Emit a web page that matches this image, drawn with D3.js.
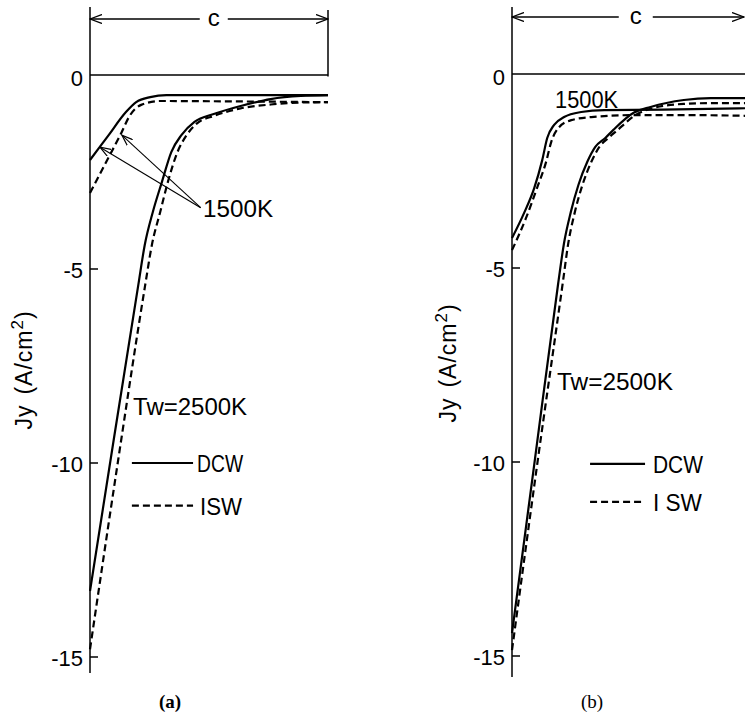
<!DOCTYPE html>
<html><head><meta charset="utf-8">
<script src="https://cdn.jsdelivr.net/npm/d3@7"></script>
<style>html,body{margin:0;padding:0;background:#fff;} svg{display:block;}</style>
</head><body><svg id="chart" width="745" height="717"></svg>
<script>
// ---------- DATA (x in percent of c, y = Jy in A/cm^2) ----------
const yTicks = [0, -5, -10, -15];
const yTickLabels = ["0", "-5", "-10", "-15"];
const seriesNames = ["DCW", "ISW"];
const panelCaptions = ["(a)", "(b)"];

// panel (a)
const a_DCW_1500_x = [0, 7.6, 15.2, 19.4, 25.3, 32.1, 60, 100];
const a_DCW_1500_y = [-2.19, -1.57, -0.95, -0.70, -0.57, -0.52, -0.52, -0.52];
const a_ISW_1500_x = [0, 6.3, 12.7, 16.9, 21.5, 29.5, 59, 100];
const a_ISW_1500_y = [-3.04, -2.30, -1.55, -1.03, -0.77, -0.67, -0.68, -0.70];
const a_DCW_2500_x = [0, 10.1, 20.3, 23.0, 26.4, 30.2, 34.2, 38.4, 43.9, 52.3, 63.3, 75.9, 88.6, 100];
const a_DCW_2500_y = [-13.3, -9.35, -5.41, -4.38, -3.53, -2.76, -1.98, -1.55, -1.21, -1.0, -0.80, -0.62, -0.54, -0.52];
const a_ISW_2500_x = [0, 11.4, 23.2, 26.0, 29.5, 32.7, 36.8, 40.6, 45.1, 52.3, 63.3, 75.9, 88.6, 100];
const a_ISW_2500_y = [-14.8, -10.1, -5.41, -4.38, -3.53, -2.76, -1.98, -1.55, -1.24, -1.05, -0.86, -0.76, -0.71, -0.70];

// panel (b)
const b_DCW_1500_x = [0, 5.1, 9.3, 12.7, 14.8, 17.7, 21.9, 29.1, 38.8, 63.3, 100];
const b_DCW_1500_y = [-4.23, -3.58, -2.95, -2.22, -1.65, -1.31, -1.11, -0.98, -0.93, -0.92, -0.88];
const b_ISW_1500_x = [0, 5.9, 10.5, 14.3, 16.5, 19.8, 24.9, 33.3, 50.6, 75.9, 100];
const b_ISW_1500_y = [-4.54, -3.71, -2.94, -2.27, -1.75, -1.37, -1.19, -1.11, -1.06, -1.06, -1.08];
const b_DCW_2500_x = [0, 9.7, 19.4, 21.8, 24.7, 27.9, 31.6, 35.0, 39.2, 42.6, 51.1, 58.2, 72.2, 83.5, 100];
const b_DCW_2500_y = [-14.41, -9.9, -5.40, -4.38, -3.56, -2.86, -2.27, -1.88, -1.65, -1.44, -1.0, -0.85, -0.67, -0.62, -0.62];
const b_ISW_2500_x = [0, 10.5, 21.5, 23.6, 26.4, 29.6, 33.3, 36.7, 40.5, 43.9, 51.9, 59.1, 72.2, 83.5, 100];
const b_ISW_2500_y = [-14.85, -10.1, -5.31, -4.38, -3.56, -2.86, -2.27, -1.88, -1.65, -1.47, -1.06, -0.88, -0.77, -0.75, -0.75];

// ---------- LAYOUT ----------
const svg = d3.select("#chart");
svg.append("rect").attr("width", 745).attr("height", 717).attr("fill", "#fff");
const defs = svg.append("defs");
defs.append("marker").attr("id", "dimArrow")
  .attr("viewBox", "0 0 13 10").attr("refX", 12).attr("refY", 5)
  .attr("markerWidth", 13).attr("markerHeight", 10)
  .attr("markerUnits", "userSpaceOnUse").attr("orient", "auto-start-reverse")
  .append("path").attr("d", "M0,0.5 L12,5 L0,9.5").attr("fill", "none")
  .attr("stroke", "#000").attr("stroke-width", 1.3);
defs.append("marker").attr("id", "annArrow")
  .attr("viewBox", "0 0 12 9").attr("refX", 11).attr("refY", 4.5)
  .attr("markerWidth", 12).attr("markerHeight", 9)
  .attr("markerUnits", "userSpaceOnUse").attr("orient", "auto")
  .append("path").attr("d", "M0,0.5 L11,4.5 L0,8.5").attr("fill", "none")
  .attr("stroke", "#000").attr("stroke-width", 1.2);

const SANS = "'Liberation Sans', Arial, sans-serif";
const SERIF = "'Liberation Serif', 'Times New Roman', serif";

function zip(xs, ys) { return xs.map((v, i) => [v, ys[i]]); }

const panels = [
  {
    left: 90, right: 328, zeroY: 75, bottomY: 657, axisTop: 7, axisBottom: 673,
    rightTick: true, dimY: 19, cGap: 14, caption: panelCaptions[0], captionX: 170, captionBold: true,
    ylabX: 32, ylabY: 370,
    series: [
      { d: zip(a_DCW_1500_x, a_DCW_1500_y), dash: false },
      { d: zip(a_ISW_1500_x, a_ISW_1500_y), dash: true },
      { d: zip(a_DCW_2500_x, a_DCW_2500_y), dash: false },
      { d: zip(a_ISW_2500_x, a_ISW_2500_y), dash: true }
    ],
    legend: { x1: 17.6, x2: 43.3, tx: [45, 46.2], ty: [-10.0, -11.1], w: [46, 42], labels: ["DCW", "ISW"] },
    tw: { x: 18.1, y: -8.76, w: 114, text: "Tw=2500K" },
    k1500: { x: 47.5, y: -3.65, w: 70, text: "1500K", arrows: [[4.2, -1.86], [13.4, -1.55]], from: [46.5, -3.42] }
  },
  {
    left: 512, right: 750, zeroY: 74, bottomY: 656, axisTop: 7, axisBottom: 677,
    rightTick: false, dimY: 17, cGap: 17, caption: panelCaptions[1], captionX: 592, captionBold: false,
    ylabX: 456, ylabY: 363,
    series: [
      { d: zip(b_DCW_1500_x, b_DCW_1500_y), dash: false },
      { d: zip(b_ISW_1500_x, b_ISW_1500_y), dash: true },
      { d: zip(b_DCW_2500_x, b_DCW_2500_y), dash: false },
      { d: zip(b_ISW_2500_x, b_ISW_2500_y), dash: true }
    ],
    legend: { x1: 32.8, x2: 55.9, tx: [59.2, 59.2], ty: [-10.05, -11.03], w: [50, 49], labels: ["DCW", "I SW"] },
    tw: { x: 18.9, y: -8.14, w: 116, text: "Tw=2500K" },
    k1500: { x: 18.1, y: -0.88, w: 63, text: "1500K", arrows: [], from: null }
  }
];

panels.forEach(p => {
  const g = svg.append("g");
  const x = d3.scaleLinear().domain([0, 100]).range([p.left, p.right]);
  const y = d3.scaleLinear().domain([0, -15]).range([p.zeroY, p.bottomY]);

  // y axis line
  g.append("line").attr("x1", p.left).attr("x2", p.left)
    .attr("y1", p.axisTop).attr("y2", p.axisBottom)
    .attr("stroke", "#000").attr("stroke-width", 1.5);
  // zero line
  g.append("line").attr("x1", p.left).attr("x2", p.right)
    .attr("y1", y(0)).attr("y2", y(0))
    .attr("stroke", "#000").attr("stroke-width", 1.5);
  if (p.rightTick) {
    g.append("line").attr("x1", p.right).attr("x2", p.right)
      .attr("y1", p.axisTop + 3).attr("y2", y(0) + 1.5)
      .attr("stroke", "#000").attr("stroke-width", 1.5);
  }
  // ticks + labels
  yTicks.forEach((t, i) => {
    if (t !== 0) {
      g.append("line").attr("x1", p.left).attr("x2", p.left + 8)
        .attr("y1", y(t)).attr("y2", y(t)).attr("stroke", "#000").attr("stroke-width", 1.5);
    }
    g.append("text").attr("x", p.left - 7).attr("y", y(t) + (t === 0 ? 11 : 9))
      .attr("text-anchor", "end").attr("font-family", SANS).attr("font-size", 22)
      .text(yTickLabels[i]);
  });

  // dimension "c"
  const cx = x(52);
  g.append("line").attr("x1", x(0)).attr("x2", cx - p.cGap).attr("y1", p.dimY).attr("y2", p.dimY)
    .attr("stroke", "#000").attr("stroke-width", 1.3).attr("marker-start", "url(#dimArrow)");
  g.append("line").attr("x1", cx + p.cGap).attr("x2", Math.min(x(100), 744)).attr("y1", p.dimY).attr("y2", p.dimY)
    .attr("stroke", "#000").attr("stroke-width", 1.3).attr("marker-end", "url(#dimArrow)");
  g.append("text").attr("x", cx).attr("y", p.dimY + 7).attr("text-anchor", "middle")
    .attr("font-family", SANS).attr("font-size", 24).text("c");

  // curves
  const line = d3.line().x(d => x(d[0])).y(d => y(d[1])).curve(d3.curveMonotoneX);
  p.series.forEach(s => {
    g.append("path").attr("d", line(s.d)).attr("fill", "none")
      .attr("stroke", "#000").attr("stroke-width", 2.2)
      .attr("stroke-dasharray", s.dash ? "7,4" : null)
      .attr("stroke-linejoin", "round");
  });

  // legend
  const L = p.legend;
  [0, 1].forEach(i => {
    g.append("line").attr("x1", x(L.x1)).attr("x2", x(L.x2))
      .attr("y1", y(L.ty[i])).attr("y2", y(L.ty[i]))
      .attr("stroke", "#000").attr("stroke-width", 2.2)
      .attr("stroke-dasharray", i === 1 ? "7,4" : null);
    g.append("text").attr("x", x(L.tx[i])).attr("y", y(L.ty[i]) + 9)
      .attr("font-family", SANS).attr("font-size", 23)
      .attr("textLength", L.w[i]).attr("lengthAdjust", "spacingAndGlyphs")
      .text(L.labels[i]);
  });

  // Tw label
  g.append("text").attr("x", x(p.tw.x)).attr("y", y(p.tw.y))
    .attr("font-family", SANS).attr("font-size", 23)
    .attr("textLength", p.tw.w).attr("lengthAdjust", "spacingAndGlyphs")
    .text(p.tw.text);

  // 1500K label
  const K = p.k1500;
  g.append("text").attr("x", x(K.x)).attr("y", y(K.y))
    .attr("font-family", SANS).attr("font-size", 23)
    .attr("textLength", K.w).attr("lengthAdjust", "spacingAndGlyphs")
    .text(K.text);
  K.arrows.forEach(a => {
    g.append("line").attr("x1", x(K.from[0])).attr("y1", y(K.from[1]))
      .attr("x2", x(a[0])).attr("y2", y(a[1]))
      .attr("stroke", "#000").attr("stroke-width", 1.1)
      .attr("marker-end", "url(#annArrow)");
  });

  // y label
  const yl = g.append("text")
    .attr("transform", `translate(${p.ylabX},${p.ylabY}) rotate(-90)`)
    .attr("text-anchor", "middle").attr("font-family", SANS).attr("font-size", 23)
    .attr("letter-spacing", 1);
  yl.append("tspan").text("Jy");
  yl.append("tspan").attr("dx", 10).text("(A/cm");
  yl.append("tspan").attr("font-size", 17).attr("dy", -9).text("2");
  yl.append("tspan").attr("dy", 9).text(")");

  // caption
  g.append("text").attr("x", p.captionX).attr("y", 708).attr("text-anchor", "middle")
    .attr("font-family", SERIF).attr("font-size", 19)
    .attr("font-weight", p.captionBold ? "bold" : "normal")
    .text(p.caption);
});
</script></body></html>
